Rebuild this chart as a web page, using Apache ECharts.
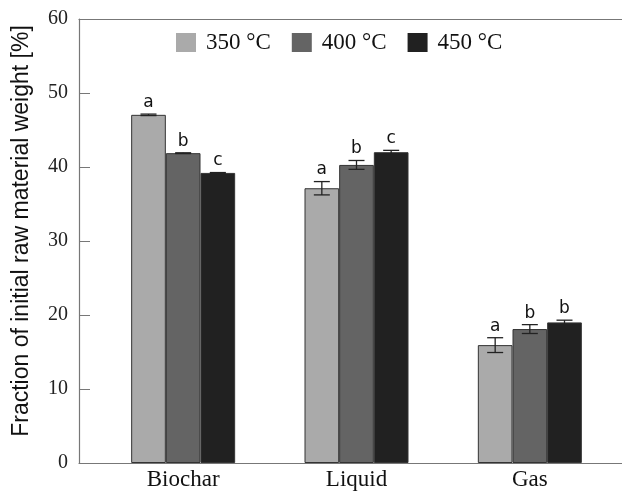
<!DOCTYPE html>
<html>
<head>
<meta charset="utf-8">
<script src="https://cdn.jsdelivr.net/npm/echarts@6/dist/echarts.min.js"></script>
<style>html,body{margin:0;padding:0;background:#fff}#c{width:622px;height:493px}</style>
</head>
<body>
<div id="c"></div>
<script>
const categories = ['Biochar', 'Liquid', 'Gas'];
const seriesNames = ['350 °C', '400 °C', '450 °C'];
const values350 = [47.05, 37.13, 15.93];
const values400 = [41.87, 40.28, 18.1];
const values450 = [39.2, 42.0, 19.0];
const err350 = [0.1, 0.9, 1.0];
const err400 = [0.05, 0.6, 0.6];
const err450 = [0.05, 0.25, 0.3];
const letters350 = ['a', 'a', 'a'];
const letters400 = ['b', 'b', 'b'];
const letters450 = ['c', 'c', 'b'];
const yTicks = [0, 10, 20, 30, 40, 50, 60];

const colors = ['#aaaaaa', '#646464', '#212121'];
const allValues = [values350, values400, values450];
const allErr = [err350, err400, err450];
const allLetters = [letters350, letters400, letters450];

const errData = [];
const errLetters = [];
for (let s = 0; s < 3; s++) {
  for (let c = 0; c < categories.length; c++) {
    errData.push([c, allValues[s][c], allErr[s][c], s]);
    errLetters.push(allLetters[s][c]);
  }
}

const chart = echarts.init(document.getElementById('c'), null, {renderer: 'canvas'});
const GTOP = 19, GBOT = 30;
chart.setOption({
  animation: false,
  backgroundColor: '#ffffff',
  legend: {
    data: seriesNames,
    left: 171, top: 26,
    icon: 'rect', itemWidth: 20, itemHeight: 19, itemGap: 21,
    itemStyle: {borderWidth: 0},
    textStyle: {fontFamily: 'Liberation Serif', fontSize: 23, color: '#111', padding: [0, 0, 0, 5]}
  },
  grid: [
    {left: 96.5, right: 5.5, top: GTOP, bottom: GBOT},
    {left: 79, right: 0, top: GTOP, bottom: GBOT}
  ],
  xAxis: [
    {gridIndex: 0, type: 'category', data: categories,
     axisLine: {show: false}, axisTick: {show: false},
     axisLabel: {fontFamily: 'Liberation Serif', fontSize: 23, color: '#111', margin: 5}},
    {gridIndex: 1, type: 'value', min: 0, max: 1, position: 'bottom',
     axisLine: {show: true, lineStyle: {color: '#777', width: 1.2}}, axisTick: {show: false},
     axisLabel: {show: false}, splitLine: {show: false}},
    {gridIndex: 1, type: 'value', min: 0, max: 1, position: 'top',
     axisLine: {show: true, lineStyle: {color: '#777', width: 1.2}}, axisTick: {show: false},
     axisLabel: {show: false}, splitLine: {show: false}}
  ],
  yAxis: [
    {gridIndex: 0, type: 'value', min: 0, max: 60, interval: 10, show: false},
    {gridIndex: 1, type: 'value', min: 0, max: 60, interval: 10,
     axisLine: {show: true, lineStyle: {color: '#777', width: 1.2}},
     axisTick: {show: true, inside: true, length: 11, lineStyle: {color: '#777'}},
     axisLabel: {fontFamily: 'Liberation Serif', fontSize: 20, color: '#222', margin: 11,
       formatter: v => (yTicks.indexOf(v) >= 0 ? String(v) : '')},
     splitLine: {show: false},
     name: 'Fraction of initial raw material weight [%]',
     nameLocation: 'middle', nameGap: 46,
     nameTextStyle: {fontFamily: 'Liberation Sans', fontSize: 23, color: '#111', padding: [0, 0, 0, 20]}}
  ],
  series: [
    ...seriesNames.map((n, i) => ({
      name: n, type: 'bar', xAxisIndex: 0, yAxisIndex: 0,
      data: allValues[i],
      barGap: '0%', barCategoryGap: '40%',
      itemStyle: {color: colors[i], borderColor: '#333', borderWidth: 1}
    })),
    {
      name: 'err', type: 'custom', xAxisIndex: 0, yAxisIndex: 0,
      data: errData, z: 10,
      renderItem: function (params, api) {
        const cat = api.value(0), v = api.value(1), e = api.value(2), si = api.value(3);
        const band = api.size([1, 0])[0];
        const bw = band * 0.6 / 3;
        const c = api.coord([cat, v]);
        const x = c[0] + (si - 1) * bw;
        const top = api.coord([cat, v + e])[1];
        const bot = api.coord([cat, v - e])[1];
        const cap = 8;
        const ls = {stroke: '#222', lineWidth: 1.3};
        return {type: 'group', children: [
          {type: 'line', shape: {x1: x, y1: top, x2: x, y2: bot}, style: ls},
          {type: 'line', shape: {x1: x - cap, y1: top, x2: x + cap, y2: top}, style: ls},
          {type: 'line', shape: {x1: x - cap, y1: bot, x2: x + cap, y2: bot}, style: ls},
          {type: 'text', style: {text: errLetters[params.dataIndex], x: x, y: top - 3,
            align: 'center', verticalAlign: 'bottom',
            font: '17px "DejaVu Sans"', fill: '#111'}}
        ]};
      }
    }
  ]
});
</script>
</body>
</html>
